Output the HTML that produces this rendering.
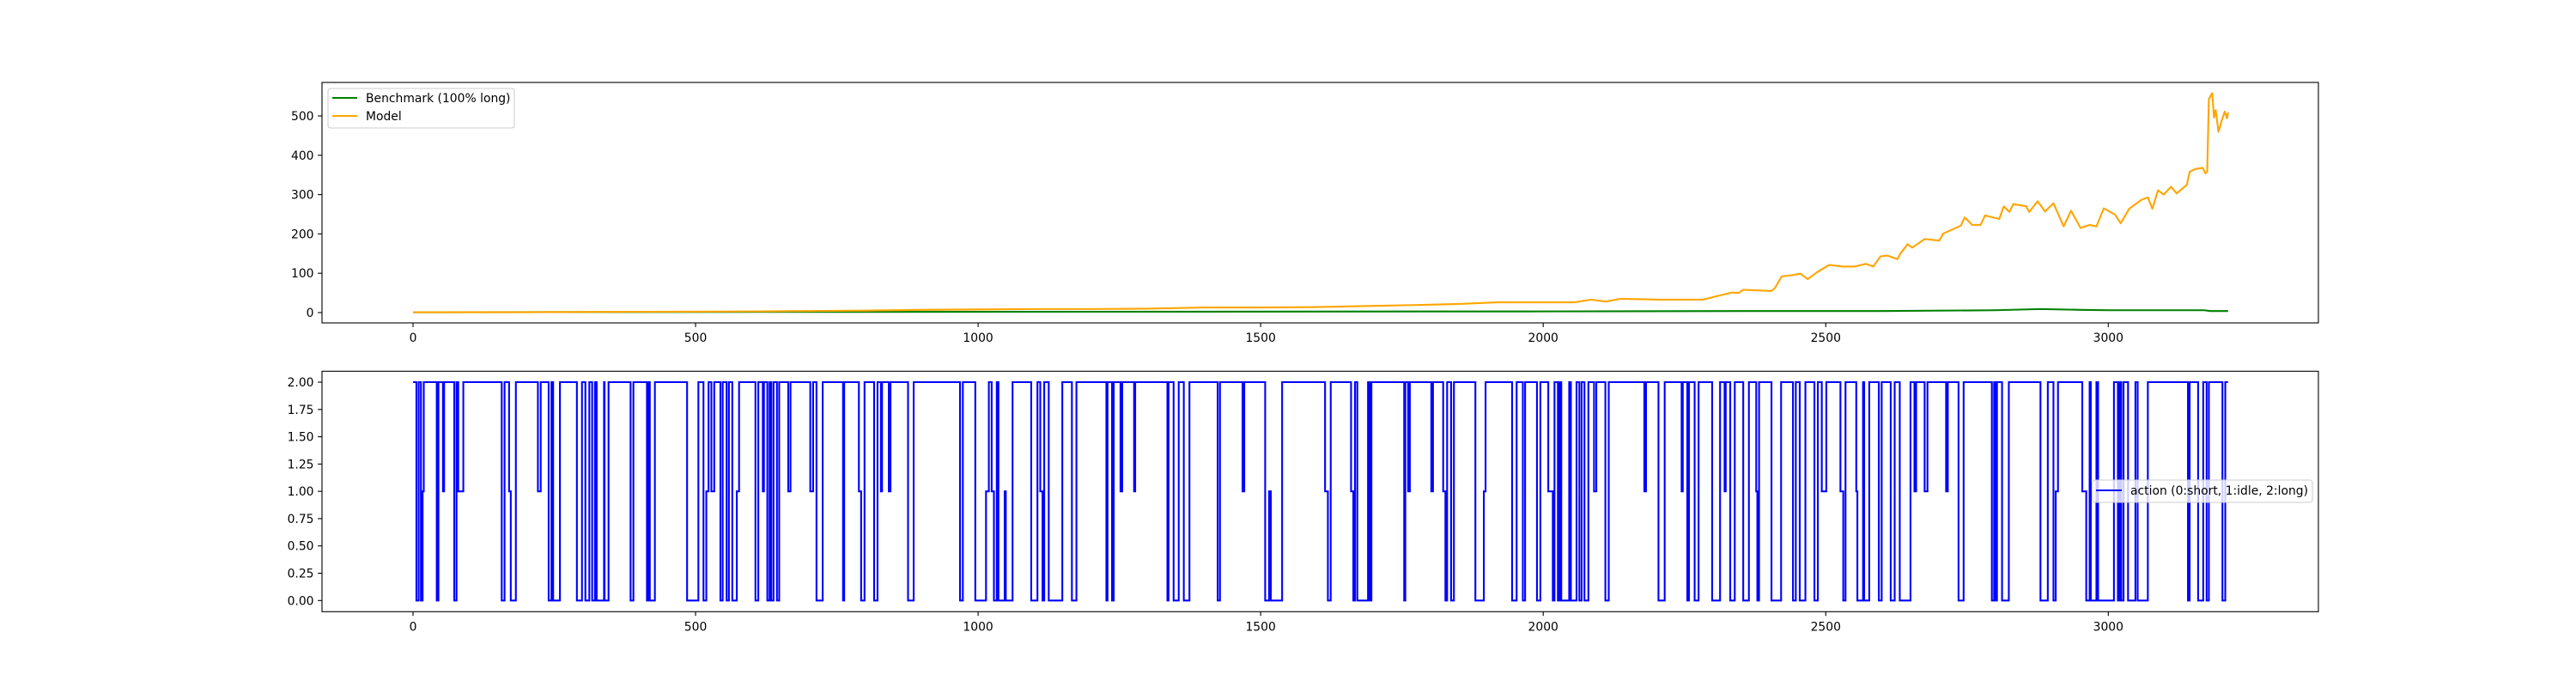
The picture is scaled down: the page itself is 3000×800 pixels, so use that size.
<!DOCTYPE html>
<html><head><meta charset="utf-8"><style>
html,body{margin:0;padding:0;background:#fff;}
svg{display:block;font-family:"DejaVu Sans","Liberation Sans",sans-serif;}
</style></head><body>
<svg id="chart" width="3000" height="800" xmlns="http://www.w3.org/2000/svg">
<rect width="3000" height="800" fill="#fff"/>
<g id="top"></g>
<g id="bot"></g>
</svg>
<script>
const modelX = [0,200,400,600,800,900,1000,1100,1200,1300,1400,1500,1600,1700,1800,1852,1918,2055,2085,2111,2136,2207,2283,2308,2334,2346,2354,2404,2410,2422,2440,2455,2468,2485,2506,2531,2551,2571,2584,2597,2609,2627,2632,2645,2653,2675,2701,2708,2739,2746,2759,2774,2782,2807,2815,2825,2832,2855,2860,2875,2888,2903,2921,2934,2951,2967,2979,2992,3012,3022,3037,3058,3070,3078,3088,3098,3111,3121,3139,3144,3154,3167,3172,3175,3178,3184,3187,3190,3195,3200,3206,3210,3212];
const modelY = [1,1,2,3,5,7,8,9,9,10,13,13,14,17,20,22,26,26,33,28,35,33,33,42,51,50,58,55,62,92,95,99,85,103,121,117,117,124,117,143,145,136,150,174,165,187,183,201,221,242,223,223,247,238,270,256,276,270,256,283,257,278,219,259,215,223,219,265,249,227,264,286,293,264,311,300,320,303,325,358,365,368,354,358,543,558,496,515,460,485,511,494,509];
const benchX = [0,1000,2000,2400,2600,2800,2880,2950,3000,3170,3180,3212];
const benchY = [1,2,3,4,4,6,9,7,6,6,4,4];
const actionIdx = [
0,6,10,14,17,19,21,42,45,53,
55,73,77,80,89,157,162,170,173,182,
221,226,240,245,248,260,290,299,305,312,
317,322,325,338,339,346,385,390,414,417,
419,428,
454,485,505,514,519,523,528,533,544,548,
555,559,565,573,577,606,611,619,621,627,
631,634,638,644,648,664,668,703,708,714,
725,761,763,789,793,799,816,822,828,830,
842,845,876,886,968,973,995,1014,1019,1024,
1028,1033,1036,1047,1049,1061,1094,1105,1110,1114,
1117,1125,1149,1166,1174,
1227,1229,1237,1240,1252,1255,1276,1278,1335,1337,
1346,1355,1364,1374,1424,1428,1468,1471,1508,1515,
1518,1538,1614,1619,1624,1660,1664,1667,1671,1690,
1693,1696,1754,1756,1761,1764,1802,1805,1823,1827,
1830,1837,1842,1880,1895,1898,
1945,1953,1964,1968,1989,1995,2009,2017,2020,2026,
2029,2032,2046,2049,2059,2064,2068,2073,2080,2090,
2094,2110,2116,2179,2182,2204,2215,2245,2247,2255,
2258,2268,2275,2299,2313,2321,2323,2331,2339,2354,
2364,2377,2379,2382,2404,2421,2442,2447,2454,2464,
2480,2486,2493,2501,2526,2531,2535,2554,2556,2566,
2568,2577,2594,2599,2615,2622,2631,2650,2657,2660,
2675,2680,2713,2716,2735,2744,2794,2798,2800,2803,
2812,2824,2880,2893,2903,2907,2911,2954,2961,2967,
2969,2979,2982,3010,3017,3020,3023,3027,3035,3048,
3052,3070,3141,3144,3159,3168,3174,3178,3202,3207];
const actionVal = [
2,0,2,0,1,2,2,0,2,1,
2,0,2,1,2,0,2,1,0,2,
1,2,0,2,0,2,0,2,0,2,
0,2,0,2,0,2,0,2,0,2,
0,2,
2,0,2,0,1,2,1,2,0,2,
0,2,0,1,2,0,2,1,2,0,
2,0,2,0,2,1,2,1,2,0,
2,0,2,1,0,2,0,2,1,2,
1,2,0,2,0,2,0,1,2,1,
0,2,0,1,0,2,0,2,1,0,
2,0,2,0,2,
0,2,0,2,1,2,1,2,0,2,
0,2,0,2,0,2,1,2,0,1,
0,2,1,0,2,1,0,2,0,2,
0,2,0,2,1,2,1,2,1,0,
2,0,2,0,1,2,
0,2,0,2,0,2,1,0,2,0,
2,0,2,0,2,0,2,0,2,1,
2,0,2,1,2,0,2,1,2,0,
2,0,2,0,2,1,2,0,2,0,
2,1,0,2,0,2,0,2,0,2,
0,2,1,2,1,0,2,1,0,2,
0,2,0,2,0,2,0,2,1,2,
1,2,1,2,0,2,0,2,0,2,
0,2,0,2,0,1,2,1,0,2,
0,2,0,2,0,2,0,2,0,2,
0,2,0,2,0,2,0,2,0,2];
const actionEnd = 3212;
const xTicks = [0,500,1000,1500,2000,2500,3000];
const topYTicks = [0,100,200,300,400,500];
const botYTicks = [0,0.25,0.5,0.75,1,1.25,1.5,1.75,2];

const NS="http://www.w3.org/2000/svg";
function mk(parent,tag,attrs){const e=document.createElementNS(NS,tag);for(const k in attrs)e.setAttribute(k,attrs[k]);parent.appendChild(e);return e;}
const L=375,R=2700;
const xs=v=>481+v*0.6581;
const topY=v=>364-v*0.458;
const botY=v=>699.3-v*127.15;

function axes(g,top,bot,yTicks,yf,fmt,prefix){
  for(const t of xTicks){
    const x=xs(t);
    const tk=mk(g,'line',{x1:x,x2:x,y1:bot,y2:bot+4.9,stroke:'#000','stroke-width':1.1});
    
    
    const tx=mk(g,'text',{x:x,y:bot+22,'font-size':13.9,'text-anchor':'middle',fill:'#000'});
    tx.textContent=t;
    
    
  }
  for(const t of yTicks){
    const y=yf(t);
    const tk=mk(g,'line',{x1:L-4.9,x2:L,y1:y,y2:y,stroke:'#000','stroke-width':1.1});
    
    
    const tx=mk(g,'text',{x:L-9.5,y:y+5,'font-size':13.9,'text-anchor':'end',fill:'#000'});
    tx.textContent=fmt(t);
    
    
  }
}
function linePath(xa,ya,yf){return xa.map((x,i)=>(i?'L':'M')+xs(x).toFixed(2)+','+yf(ya[i]).toFixed(2)).join('');}

const gt=document.getElementById('top');
const cp=mk(gt,'clipPath',{id:'ct'});mk(cp,'rect',{x:L,y:96,width:R-L,height:280});
const bl=mk(gt,'path',{d:linePath(benchX,benchY,topY),fill:'none',stroke:'#008000','stroke-width':2.1,'clip-path':'url(#ct)'});


const ml=mk(gt,'path',{d:linePath(modelX,modelY,topY),fill:'none',stroke:'#ffa500','stroke-width':2.1,'stroke-linejoin':'round','clip-path':'url(#ct)'});


const fr=mk(gt,'rect',{x:L,y:96,width:R-L,height:280,fill:'none',stroke:'#000','stroke-width':1.1});


axes(gt,96,376,topYTicks,topY,t=>t,'top');
const lg=mk(gt,'g',{});


mk(lg,'rect',{x:382,y:103,width:217,height:46,rx:3,fill:'#fff','fill-opacity':0.8,stroke:'#ccc','stroke-width':1});
mk(lg,'line',{x1:387,x2:416,y1:114,y2:114,stroke:'#008000','stroke-width':2.1});
const t1=mk(lg,'text',{x:426,y:119,'font-size':13.9,fill:'#000'});t1.textContent='Benchmark (100% long)';


mk(lg,'line',{x1:387,x2:416,y1:135,y2:135,stroke:'#ffa500','stroke-width':2.1});
const t2=mk(lg,'text',{x:426,y:140,'font-size':13.9,fill:'#000'});t2.textContent='Model';



const gb=document.getElementById('bot');
let d='';
for(let i=0;i<actionIdx.length;i++){
  const x0=xs(actionIdx[i]);const y=botY(actionVal[i]);
  d+=(i?'L':'M')+x0.toFixed(2)+','+y.toFixed(2);
  const x1=xs(i+1<actionIdx.length?actionIdx[i+1]:actionEnd);
  d+='L'+x1.toFixed(2)+','+y.toFixed(2);
}
const al=mk(gb,'path',{d:d,fill:'none',stroke:'#0000ff','stroke-width':2.1});


const fb=mk(gb,'rect',{x:L,y:432.3,width:R-L,height:280,fill:'none',stroke:'#000','stroke-width':1.1});


axes(gb,432.3,712.3,botYTicks,botY,t=>t.toFixed(2),'bottom');
const lb=mk(gb,'g',{});


mk(lb,'rect',{x:2437,y:559,width:256,height:26,rx:3,fill:'#fff','fill-opacity':0.8,stroke:'#ccc','stroke-width':1});
mk(lb,'line',{x1:2441,x2:2471,y1:571,y2:571,stroke:'#0000ff','stroke-width':2.1});
const t3=mk(lb,'text',{x:2481,y:576,'font-size':13.9,fill:'#000'});t3.textContent='action (0:short, 1:idle, 2:long)';


</script>
</body></html>
